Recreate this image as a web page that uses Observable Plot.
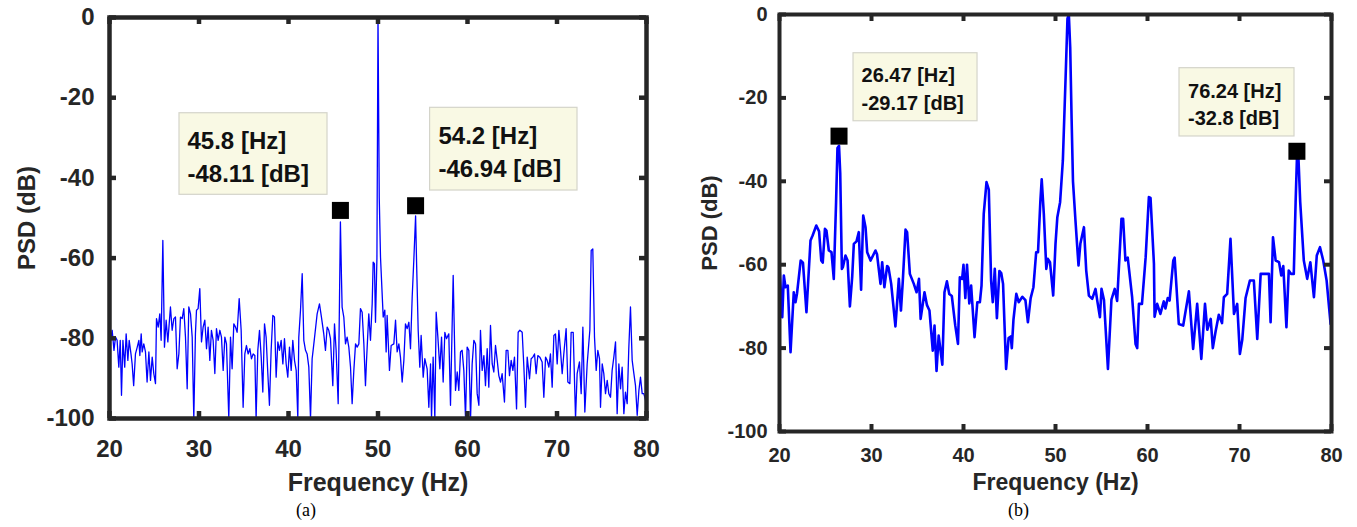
<!DOCTYPE html>
<html>
<head>
<meta charset="utf-8">
<script src="https://cdn.jsdelivr.net/npm/d3@7"></script>
<script src="https://cdn.jsdelivr.net/npm/@observablehq/plot@0.6"></script>
<style>
  html, body { margin: 0; padding: 0; background: #fff; }
  #wrap { position: relative; width: 1357px; height: 527px; overflow: hidden; }
</style>
</head>
<body>
<div id="wrap"></div>
<script>
// ---------------- DATA ----------------
const xTicks = [20, 30, 40, 50, 60, 70, 80];
const yTicks = [0, -20, -40, -60, -80, -100];

// Panel (a): [frequency Hz, PSD dB]
const seriesA = [
[20.0,-80],[20.11,-80.5],[20.3,-78],[20.5,-83],[20.67,-79.7],[20.85,-80.5],[21.04,-87.2],[21.2,-80.5],[21.34,-94.2],[21.5,-80.5],
[21.7,-87.2],[21.86,-78.9],[22.05,-85.5],[22.2,-80.5],[22.4,-83.9],[22.53,-86.4],[22.7,-91.8],[22.9,-83.9],[23.1,-82.2],[23.28,-80.5],
[23.39,-84.3],[23.54,-78.9],[23.65,-83.4],[23.83,-81.4],[24.02,-83.4],[24.2,-90.9],[24.4,-83.4],[24.58,-90.5],[24.77,-84.7],[24.95,-88.8],
[25.14,-91.3],[25.25,-75.1],[25.44,-77.2],[25.62,-73.9],[25.77,-80.5],[25.96,-55.6],[26.14,-82.2],[26.33,-75.5],[26.52,-80.9],[26.81,-72.2],
[27.0,-78],[27.19,-75.1],[27.37,-74.7],[27.56,-87.6],[27.75,-83.9],[27.93,-74.7],[28.12,-75.1],[28.3,-72.6],[28.49,-79.7],[28.68,-92.6],
[28.86,-72.2],[29.05,-73.9],[29.24,-79.7],[29.42,-100],[29.6,-78.9],[29.72,-73],[29.9,-72.6],[30.09,-67.6],[30.28,-80.9],[30.46,-77.2],
[30.65,-75.5],[30.84,-82.6],[31.02,-77.2],[31.21,-85.5],[31.39,-78],[31.58,-80.5],[31.77,-88.8],[31.95,-77.6],[32.14,-80.5],[32.33,-78],
[32.51,-79.7],[32.7,-88],[32.89,-79.7],[33.07,-81.4],[33.33,-100],[33.52,-79.7],[33.7,-87.6],[33.89,-76.4],[34.08,-77.2],[34.26,-78.5],
[34.49,-70.1],[34.71,-78],[34.93,-97.2],[35.12,-83.9],[35.3,-81.8],[35.49,-83.9],[35.68,-82.6],[35.86,-85.1],[36.05,-83.9],[36.24,-84.3],
[36.38,-100],[36.57,-83],[36.76,-78],[36.95,-84.7],[37.13,-93.4],[37.32,-76.4],[37.5,-79.7],[37.69,-88.8],[37.87,-96.7],[38.06,-83],
[38.25,-74.3],[38.43,-74.7],[38.62,-89.7],[38.81,-80.9],[38.99,-83],[39.18,-80.5],[39.37,-86.4],[39.55,-80.1],[39.74,-86.4],[39.92,-89.7],
[40.11,-82.2],[40.3,-88],[40.48,-80.5],[40.67,-85.5],[40.86,-88],[41.04,-100],[41.15,-79.7],[41.34,-73],[41.53,-63.9],[41.71,-80.5],
[41.9,-83],[42.08,-83.9],[42.27,-87.2],[42.46,-100],[42.64,-85.1],[42.75,-83],[43.02,-77.6],[43.2,-73.9],[43.46,-71.4],[43.68,-74.7],
[43.94,-78.9],[44.13,-83],[44.32,-77.2],[44.5,-78],[44.69,-80.1],[44.95,-91.8],[45.14,-76.4],[45.32,-83],[45.55,-96.3],[45.7,-70],
[45.8,-51],[45.92,-65],[45.99,-72.2],[46.18,-74.7],[46.37,-81.4],[46.55,-79.7],[46.74,-82.2],[46.93,-87.2],[47.11,-96.3],[47.3,-88],
[47.49,-81.4],[47.67,-82.2],[47.86,-81.4],[48.04,-72.6],[48.23,-73.5],[48.42,-81.4],[48.6,-91.8],[48.71,-85.9],[48.97,-73.9],[49.16,-80.5],
[49.35,-71.4],[49.46,-61],[49.6,-61.4],[49.72,-76],[49.88,-60],[50.0,0],[50.14,-45],[50.28,-59.8],[50.58,-74.7],[50.76,-73],
[50.91,-83.4],[51.02,-74.3],[51.28,-88],[51.47,-81.8],[51.77,-81.4],[51.96,-75.5],[52.14,-83.4],[52.33,-81.4],[52.51,-84.7],[52.7,-90.9],
[52.89,-85.5],[53.07,-76.4],[53.26,-77.6],[53.45,-76],[53.63,-82.6],[53.82,-69.7],[54.0,-60.6],[54.2,-49.5],[54.32,-62],[54.49,-78],
[54.67,-87.2],[54.82,-79.3],[55.05,-89.7],[55.23,-85.1],[55.49,-87.6],[55.68,-97.2],[55.87,-86.4],[55.98,-100],[56.16,-84.7],[56.35,-100],
[56.5,-73.5],[56.69,-79.7],[56.91,-87.6],[57.1,-79.7],[57.28,-90.9],[57.47,-78.5],[57.65,-80.1],[57.91,-78.9],[58.1,-96.7],[58.4,-64.3],
[58.66,-93],[58.85,-88.4],[59.03,-93],[59.22,-83.4],[59.4,-83],[59.59,-88],[59.78,-100],[59.96,-82.2],[60.15,-83],[60.34,-100],
[60.52,-86.4],[60.71,-80.5],[60.9,-81.4],[61.08,-93.8],[61.27,-96.7],[61.45,-78],[61.64,-88],[61.83,-84.3],[62.01,-91.8],[62.2,-82.6],
[62.38,-92.2],[62.57,-76.8],[62.76,-86.4],[62.94,-88.4],[63.13,-81.8],[63.32,-85.5],[63.5,-89.3],[63.69,-90.9],[63.87,-88.8],[64.13,-95.9],
[64.32,-83],[64.51,-83],[64.69,-89.3],[64.88,-85.5],[65.07,-88],[65.25,-84.7],[65.48,-97.6],[65.66,-78.5],[65.85,-78],[66.11,-78.5],
[66.3,-87.2],[66.48,-97.2],[66.67,-84.7],[66.93,-90.1],[67.11,-85.1],[67.3,-84.7],[67.49,-83.9],[67.67,-88.8],[67.86,-84.3],[68.08,-84.7],
[68.34,-85.9],[68.53,-94.7],[68.72,-84.7],[68.9,-85.5],[69.09,-87.2],[69.27,-83.9],[69.46,-92.2],[69.65,-79.3],[69.83,-78.9],[70.02,-86.4],
[70.21,-78],[70.39,-83],[70.58,-88.8],[70.76,-83.9],[71.02,-77.6],[71.21,-90.9],[71.44,-91.3],[71.58,-78.5],[71.81,-78.5],[72.07,-100],
[72.25,-88.8],[72.51,-85.9],[72.7,-93.8],[72.89,-77.2],[73.11,-98.4],[73.37,-86.4],[73.67,-78],[73.82,-58.1],[74.0,-57.7],[74.19,-79.7],
[74.38,-88],[74.56,-83],[74.75,-85.1],[74.86,-97.2],[75.05,-86.4],[75.23,-88.8],[75.42,-93.8],[75.61,-90.5],[75.79,-93.8],[75.98,-94.7],
[76.16,-88],[76.35,-84.7],[76.54,-80.9],[76.72,-98.8],[76.91,-86.4],[77.1,-92.6],[77.28,-87.2],[77.47,-98.8],[77.65,-93.4],[77.84,-96.3],
[78.02,-82.6],[78.21,-72.2],[78.4,-85.5],[78.59,-88.8],[78.77,-91.8],[78.96,-99.2],[79.15,-93],[79.33,-89.7],[79.52,-93.8],[79.7,-93.8],
[79.89,-95.4],[80.0,-100]
];

// Panel (b): [frequency Hz, PSD dB]
const seriesB = [
[20.0,-60.6],[20.3,-72.6],[20.47,-62.6],[20.65,-65.4],[20.9,-65],[21.2,-81],[21.55,-66.6],[21.74,-69],[21.9,-67],[22.3,-59],
[22.55,-59.5],[22.93,-71.4],[23.37,-54.2],[23.6,-53],[24.0,-50.6],[24.3,-52],[24.54,-59],[24.7,-59.5],[24.94,-51.4],[25.1,-51.8],
[25.36,-56.6],[25.65,-57],[25.9,-63.4],[26.15,-45],[26.3,-32],[26.47,-31.5],[26.6,-38],[26.78,-61],[26.9,-60.5],[27.17,-57.8],
[27.4,-59],[27.65,-70],[27.9,-63],[28.08,-55],[28.37,-54.4],[28.62,-52.2],[28.87,-66],[29.1,-48.2],[29.35,-51],[29.53,-57],
[29.9,-59],[30.43,-56.6],[30.6,-57.5],[30.98,-64.6],[31.16,-59.4],[31.4,-65.4],[31.7,-60.3],[31.85,-60.7],[32.14,-64.6],[32.6,-74.8],
[32.97,-63.4],[33.2,-71],[33.4,-64],[33.7,-51.6],[33.87,-52.2],[34.17,-62.2],[34.6,-64.6],[34.9,-66.6],[35.16,-63.4],[35.34,-73],
[35.76,-66.6],[36.03,-69.7],[36.3,-71],[36.66,-80.6],[36.85,-74.6],[37.07,-85.5],[37.3,-77],[37.7,-84],[37.93,-66.6],[38.2,-64],
[38.45,-67],[38.73,-67.5],[39.1,-74.5],[39.4,-79],[39.6,-63],[39.85,-63.4],[40.0,-60],[40.2,-68],[40.38,-60],[40.63,-69.3],
[40.83,-65],[41.2,-77.4],[41.5,-69],[41.78,-69],[41.96,-65],[42.2,-47.8],[42.5,-40.2],[42.75,-42],[43.0,-63.8],[43.18,-69],
[43.4,-61],[43.63,-72.8],[43.9,-61.5],[44.1,-62],[44.3,-64.6],[44.63,-85],[44.9,-77.6],[45.14,-77.2],[45.25,-80],[45.43,-73.2],
[45.74,-67],[46.0,-69],[46.4,-67.7],[46.73,-68.5],[47.0,-73.8],[47.3,-68],[47.6,-65.4],[47.9,-57],[48.1,-57],[48.35,-45],
[48.5,-39.5],[48.73,-47.8],[49.0,-61],[49.17,-58.6],[49.4,-59.4],[49.75,-67.4],[50.0,-55],[50.2,-48.6],[50.5,-45],[50.8,-35],
[51.1,-15],[51.3,-1],[51.45,0],[51.6,-8],[51.75,-25],[51.9,-40],[52.17,-49.4],[52.5,-60.2],[52.7,-55],[53.09,-51],
[53.34,-61.4],[53.63,-67.4],[53.99,-68.2],[54.35,-65.8],[54.53,-68.5],[54.83,-72.6],[55.0,-65.8],[55.27,-68.5],[55.7,-85],[56.08,-68.4],
[56.44,-65.8],[56.7,-68.7],[57.17,-49],[57.35,-49],[57.6,-59],[57.85,-58.3],[58.33,-67.8],[58.7,-79],[58.88,-80],[59.07,-69.4],
[59.4,-69.4],[59.8,-58.2],[60.15,-43.8],[60.33,-44],[60.7,-59.8],[60.77,-72.5],[61.05,-69.4],[61.4,-71.8],[61.77,-68.8],[61.95,-70.5],
[62.2,-68],[62.4,-68.6],[62.8,-59],[62.95,-58.3],[63.4,-74.2],[63.88,-74.6],[64.5,-66.4],[64.96,-80.2],[65.4,-69.4],[65.85,-82.6],
[66.25,-69.4],[66.5,-75.6],[66.87,-73],[67.1,-80],[67.4,-76],[67.75,-72],[68.1,-74],[68.3,-67.8],[68.66,-67],[69.02,-53.8],
[69.4,-71.8],[69.75,-69.4],[70.04,-81.4],[70.3,-78],[70.66,-68],[71.13,-63.8],[71.56,-63.8],[71.93,-77.8],[72.3,-62.2],[72.66,-62.2],
[73.2,-62.2],[73.38,-73.8],[73.64,-53.4],[73.93,-59],[74.3,-59.4],[74.54,-62.6],[74.76,-60.3],[75.1,-75],[75.35,-61.4],[75.6,-62.2],
[75.9,-62.2],[76.1,-45],[76.25,-34],[76.4,-34],[76.6,-45],[76.99,-59],[77.36,-63.4],[77.7,-59.4],[78.09,-67.8],[78.4,-57.8],
[78.75,-55.8],[79.1,-59],[79.47,-63.8],[79.9,-74.2],[80.0,-74]
];

// Data tips (marked peaks)
const peakFreqA = [45.8, 54.2];
const peakDbA = [-48.11, -46.94];
const peakFreqB = [26.47, 76.24];
const peakDbB = [-29.17, -32.8];

const captions = ["(a)", "(b)"];
const xLabel = "Frequency (Hz)";
const yLabel = "PSD (dB)";

// ---------------- LAYOUT / STYLE ----------------
const SANS = "'Liberation Sans', Arial, Helvetica, sans-serif";
const SERIF = "'Liberation Serif', 'Times New Roman', serif";
const INK = "#262626";

const panels = [
  {
    series: seriesA, pf: peakFreqA, pd: peakDbA, caption: captions[0], left: 0,
    width: 680, height: 527, mL: 109, mR: 34, mT: 17, mB: 109,
    lineW: 1.3, frameW: 4.5, tickLen: 7, tickFont: 24, xPad: 21, yPad: 15,
    xLabFont: 25, xLabDy: 72, yLabFont: 24, yLabDx: -75,
    capDx: -72, capDy: 97, capFont: 18, annFont: 24, markR: 9.6,
    ann: [
      {boxL: -160.9, boxR: 12.9, boxT: -97.2, boxB: 15.6, dx: -152.9, dy: -28.9, lh: 1.375},
      {boxL: 14.5, boxR: -161.9, boxT: -97.9, boxB: 15.2, dx: 22.9, dy: -29.2, lh: 1.375}
    ]
  },
  {
    series: seriesB, pf: peakFreqB, pd: peakDbB, caption: captions[1], left: 680,
    width: 677, height: 527, mL: 99, mR: 26, mT: 14, mB: 96,
    lineW: 2.6, frameW: 4, tickLen: 7, tickFont: 20, xPad: 16, yPad: 12,
    xLabFont: 23, xLabDy: 58, yLabFont: 22, yLabDx: -63,
    capDx: -37, capDy: 84, capFont: 18, annFont: 20, markR: 9.6,
    ann: [
      {boxL: 14.5, boxR: -138.5, boxT: -82.9, boxB: 14.9, dx: 22.5, dy: -26.6, lh: 1.365},
      {boxL: -117.4, boxR: 2.4, boxT: -83.1, boxB: 14.8, dx: -108.9, dy: -25.8, lh: 1.35}
    ]
  }
];

const wrap = document.getElementById("wrap");

for (const p of panels) {
  const plotW = p.width - p.mL - p.mR;
  const plotH = p.height - p.mT - p.mB;
  const idx = p.pf.map((_, i) => i);

  const annBoxes = idx.map(i => {
    const a = p.ann[i];
    return Plot.rect([i], {
      x1: j => p.pf[j], x2: j => p.pf[j], y1: j => p.pd[j], y2: j => p.pd[j],
      insetLeft: a.boxL, insetRight: a.boxR, insetTop: a.boxT, insetBottom: a.boxB,
      fill: "#f9f9e4", stroke: "#d4d4ca", strokeWidth: 1.2
    });
  });
  const annText = idx.map(i => {
    const a = p.ann[i];
    return Plot.text([i], {
      x: j => p.pf[j], y: j => p.pd[j],
      text: j => `${p.pf[j]} [Hz]\n${p.pd[j]} [dB]`,
      textAnchor: "start", lineAnchor: "bottom", lineHeight: a.lh,
      dx: a.dx, dy: a.dy, fontSize: p.annFont, fontWeight: "bold", fill: "#111"
    });
  });

  const chart = Plot.plot({
    width: p.width, height: p.height,
    marginLeft: p.mL, marginRight: p.mR, marginTop: p.mT, marginBottom: p.mB,
    x: {domain: [20, 80]},
    y: {domain: [-100, 0]},
    style: {fontFamily: SANS, color: INK, background: "transparent", overflow: "visible"},
    marks: [
      ...annBoxes,
      Plot.line(p.series, {x: d => d[0], y: d => d[1], stroke: "#0000ff", strokeWidth: p.lineW, clip: true, strokeLinejoin: "round"}),
      // inward MATLAB-style ticks on all four sides
      Plot.ruleX(xTicks, {x: d => d, stroke: INK, strokeWidth: p.frameW, insetTop: plotH - p.tickLen}),
      Plot.ruleX(xTicks, {x: d => d, stroke: INK, strokeWidth: p.frameW, insetBottom: plotH - p.tickLen}),
      Plot.ruleY(yTicks, {y: d => d, stroke: INK, strokeWidth: p.frameW, insetRight: plotW - p.tickLen}),
      Plot.ruleY(yTicks, {y: d => d, stroke: INK, strokeWidth: p.frameW, insetLeft: plotW - p.tickLen}),
      Plot.frame({stroke: INK, strokeWidth: p.frameW}),
      Plot.dot(idx, {x: j => p.pf[j], y: j => p.pd[j], symbol: "square", r: p.markR, fill: "#000", stroke: "none"}),
      ...annText,
      Plot.axisX(xTicks, {tickSize: 0, tickPadding: p.xPad, fontSize: p.tickFont, fontWeight: "bold", label: null, tickFormat: d => String(d), fill: INK}),
      Plot.axisY(yTicks, {tickSize: 0, tickPadding: p.yPad, fontSize: p.tickFont, fontWeight: "bold", label: null, tickFormat: d => String(d), fill: INK}),
      Plot.text([xLabel], {text: d => d, frameAnchor: "bottom", lineAnchor: "bottom", textAnchor: "middle", dy: p.xLabDy, fontSize: p.xLabFont, fontWeight: "bold", fill: INK}),
      Plot.text([yLabel], {text: d => d, frameAnchor: "left", rotate: -90, lineAnchor: "bottom", textAnchor: "middle", dx: p.yLabDx, fontSize: p.yLabFont, fontWeight: "bold", fill: INK}),
      Plot.text([p.caption], {text: d => d, frameAnchor: "bottom", lineAnchor: "bottom", textAnchor: "middle", dx: p.capDx, dy: p.capDy, fontSize: p.capFont, fontFamily: SERIF, fontWeight: "normal", fill: "#000"})
    ]
  });
  chart.style.position = "absolute";
  chart.style.left = p.left + "px";
  chart.style.top = "0px";
  wrap.appendChild(chart);
}
</script>
</body>
</html>
